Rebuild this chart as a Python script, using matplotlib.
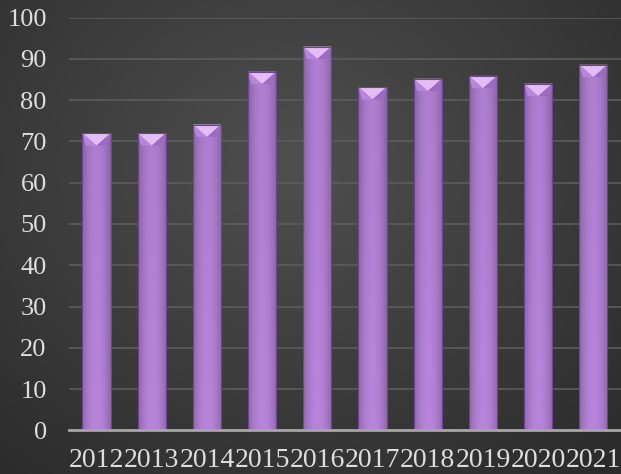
import matplotlib.pyplot as plt
import numpy as np
from matplotlib.patches import Polygon

years = ['2012', '2013', '2014', '2015', '2016', '2017', '2018', '2019', '2020', '2021']
values = [72.0, 72.0, 74.1, 86.9, 93.0, 83.2, 85.2, 85.9, 84.0, 88.6]
yticks = [0, 10, 20, 30, 40, 50, 60, 70, 80, 90, 100]

plt.rcParams['font.family'] = ['Liberation Serif', 'DejaVu Serif']

fig = plt.figure(figsize=(6.21, 4.74), dpi=100)

# dark radial background
bg = fig.add_axes([0, 0, 1, 1], zorder=0)
yy, xx = np.mgrid[0:1:300j, 0:1:400j]
r = np.sqrt(((xx - 0.47) / 0.75) ** 2 + ((yy - 0.35) / 0.85) ** 2)
shade = np.clip(0.31 - 0.14 * r, 0.17, 0.31)
bg.imshow(np.dstack([shade, shade, shade]), extent=[0, 1, 0, 1], aspect='auto', origin='upper')
bg.axis('off')

ax = fig.add_axes([0.111, 0.0922, 0.889, 0.8705], zorder=1)
ax.patch.set_alpha(0)
x = np.arange(len(years))
bars = ax.bar(x, values, width=0.51, color='#a574cc', edgecolor='#6e4590', linewidth=0.6, zorder=2)

ax.set_xlim(-0.5, len(years) - 0.5)
ax.set_ylim(0, 100)

# shading on each bar
prof = np.linspace(-1, 1, 40)
horiz = 1 - 0.22 * prof ** 2
vert = np.linspace(0.9, 1.0, 60)[:, None]
base = np.array([0.72, 0.52, 0.86])
img = np.clip(base[None, None, :] * horiz[None, :, None] * vert[:, :, None] ** 0.5, 0, 1)
for b in bars:
    x0, w, h = b.get_x(), b.get_width(), b.get_height()
    im = ax.imshow(img[::-1], extent=[x0, x0 + w, 0, h], aspect='auto', origin='lower', zorder=2.5)
    im.set_clip_path(b)
    d = 3.0
    ax.add_patch(Polygon([[x0, h], [x0 + w / 2, h - d], [x0 + w, h]], closed=True,
                         facecolor='#e4bdf6', edgecolor='none', zorder=3))
    ax.add_patch(Polygon([[x0, h], [x0 + w / 2, h - d], [x0 + w * 0.12, h - d]], closed=True,
                         facecolor='#b786dc', edgecolor='none', zorder=3))
    ax.add_patch(Polygon([[x0 + w, h], [x0 + w / 2, h - d], [x0 + w * 0.88, h - d]], closed=True,
                         facecolor='#9c6cc2', edgecolor='none', zorder=3))
    ax.add_patch(plt.Rectangle((x0, 0), w, h, facecolor='none', edgecolor='#6e4590', linewidth=0.8, zorder=3.5))

ax.set_yticks(yticks)
ax.set_xticks(x)
ax.set_xticklabels(years)
ax.yaxis.grid(True, color='#5c5c5c', linewidth=1.2, zorder=1)
ax.set_axisbelow(True)
ax.axhline(0, color='#a6a6a6', linewidth=2, zorder=4, clip_on=False)
for s in ax.spines.values():
    s.set_visible(False)
ax.tick_params(axis='both', length=0, colors='#dedede')
ax.tick_params(axis='y', pad=16, labelsize=19)
ax.tick_params(axis='x', pad=13, labelsize=20)

fig.savefig('out.png', dpi=100)
